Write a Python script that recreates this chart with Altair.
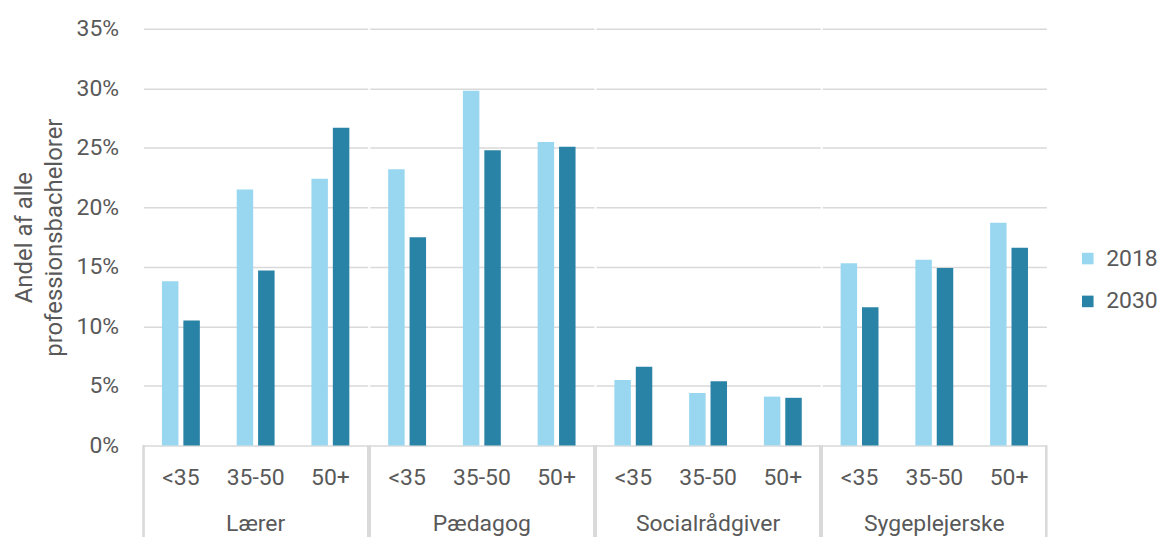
import altair as alt
import pandas as pd

professions = ["Lærer", "Pædagog", "Socialrådgiver", "Sygeplejerske"]
ages = ["<35", "35-50", "50+"]
years = ["2018", "2030"]
v2018 = [13.8, 21.5, 22.4, 23.2, 29.8, 25.5, 5.5, 4.4, 4.1, 15.3, 15.6, 18.7]
v2030 = [10.5, 14.7, 26.7, 17.5, 24.8, 25.1, 6.6, 5.4, 4.0, 11.6, 14.9, 16.6]
colors = ["#99d7f1", "#2983a6"]
y_ticks = [0, 0.05, 0.10, 0.15, 0.20, 0.25, 0.30, 0.35]

rows = []
for i, p in enumerate(professions):
    for j, a in enumerate(ages):
        k = i * 3 + j
        rows.append(dict(prof=p, age=a, year=years[0], value=v2018[k] / 100))
        rows.append(dict(prof=p, age=a, year=years[1], value=v2030[k] / 100))
df = pd.DataFrame(rows)

FONT = "Roboto"
FS = 23
TXT = "#595959"
GRID = "#d9d9d9"
H = 418
W = 225

base = alt.Chart()

xenc = alt.X("age:N", sort=ages, title=None,
             scale=alt.Scale(paddingInner=0.493, paddingOuter=0.2465), axis=None)

bars = base.mark_bar().encode(
    x=xenc,
    xOffset=alt.XOffset("year:N", sort=years, scale=alt.Scale(paddingInner=0.23, paddingOuter=0)),
    y=alt.Y(
        "value:Q", scale=alt.Scale(domain=[0, 0.35]),
        title=["Andel af alle", "professionsbachelorer"],
        axis=alt.Axis(format=".0%", values=y_ticks, labelFontSize=FS, labelColor=TXT, labelFont=FONT,
                      labelPadding=24, ticks=False, domain=False, gridColor=GRID, gridWidth=1.5,
                      titleFontSize=24, titleColor=TXT, titleFont=FONT, titleFontWeight="normal",
                      titlePadding=10, titleLineHeight=30),
    ),
    color=alt.Color(
        "year:N", scale=alt.Scale(domain=years, range=colors), title=None,
        legend=alt.Legend(orient="none", legendX=936, legendY=219, symbolType="square", symbolSize=135,
                          symbolStrokeWidth=0, labelFontSize=FS, labelColor=TXT, labelFont=FONT,
                          rowPadding=19, labelOffset=7),
    ),
)

age_text = base.mark_text(fontSize=FS, font=FONT, color=TXT, baseline="middle").encode(
    x=xenc, y=alt.value(H + 33), text="age:N"
).transform_filter(alt.datum.year == years[0])

prof_text = base.mark_text(fontSize=FS, font=FONT, color=TXT, baseline="middle").encode(
    x=alt.value(W / 2), y=alt.value(H + 79), text="prof:N"
).transform_filter((alt.datum.year == years[0]) & (alt.datum.age == ages[0]))

sep_left = base.mark_rule(color=GRID, strokeWidth=1.5).encode(
    x=alt.value(0), y=alt.value(H), y2=alt.value(H + 95))
sep_right = base.mark_rule(color=GRID, strokeWidth=1.5).encode(
    x=alt.value(W), y=alt.value(H), y2=alt.value(H + 95))

layer = alt.layer(bars, age_text, prof_text, sep_left, sep_right).properties(width=W, height=H)

chart = layer.facet(
    data=df,
    column=alt.Column("prof:N", sort=professions, title=None, header=None),
    spacing=0,
).configure_view(stroke=None).properties(padding={"top": 9, "left": 4, "right": 5, "bottom": 0})

chart.save("out.html", embed_options={"renderer": "svg", "actions": False})
